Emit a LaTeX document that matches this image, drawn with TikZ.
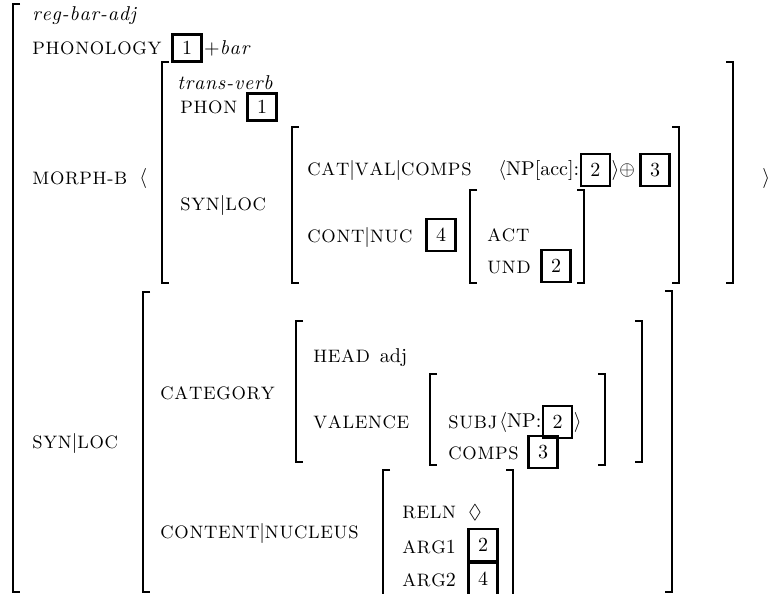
\documentclass[tikz,border=0pt]{standalone}
\usepackage{amsmath,amssymb}
\usepackage{tikz}
\usetikzlibrary{positioning}

% spaced-out letters: \lsp[kern]{text}
\ExplSyntaxOn
\NewDocumentCommand{\lsp}{O{0.35pt} m}{ \tl_map_inline:nn {#2} { ##1 \kern #1 } \unkern }
\ExplSyntaxOff
% feature names and sort labels
\newcommand{\fn}[1]{{\fontsize{9}{11}\selectfont\lsp{#1}}}
\newcommand{\srt}[1]{{\itshape\lsp[0.4pt]{#1}}}

\begin{document}
\begin{tikzpicture}[x=0.5pt, y=-0.5pt,
    feat/.style={anchor=west, inner sep=0pt},
    tag/.style={draw, line width=1.3pt, inner sep=0pt, minimum width=14.5pt, minimum height=16pt},
    tagshort/.style={tag, minimum height=13.5pt},
    brk/.style={line width=1pt}]
    \clip (0,0) rectangle (772,594);

    % Left brackets: x / top / bottom
    \foreach \bx/\btop/\bbot in {13/4/592, 162/62/283, 292/127/283, 470/190/283,
                                 143/292/592, 296/321/462, 430/374/465, 383/470/600} {
        \draw[brk] (\bx+7,\btop) -- (\bx,\btop) -- (\bx,\bbot) -- (\bx+7,\bbot);
    }
    % Right brackets
    \foreach \bx/\btop/\bbot in {733/62/283, 679/127/283, 584/190/283,
                                 672/291/592, 642/321/462, 605/374/465, 513/470/600} {
        \draw[brk] (\bx-7,\btop) -- (\bx,\btop) -- (\bx,\bbot) -- (\bx-7,\bbot);
    }

    % Outer matrix
    \node[feat] (regbaradj) at (32,16) {\srt{reg-bar-adj}};
    \node[feat] (phonology) at (32,48) {\fn{PHONOLOGY}};
    \node[tagshort] (tagphon) at (187,48) {1};
    \node[feat, right=0.5pt of tagphon] (plusbar) {$+$\srt{bar}};
    \node[feat] (morphb) at (32,178) {\fn{MORPH-B}};
    \node[feat] (lang) at (139,178) {$\langle$};
    \node[feat] (rang) at (762,178) {$\rangle$};
    \node[feat] (synlocA) at (32,443) {\fn{SYN}$|$\fn{LOC}};

    % Morphological base
    \node[feat] (transverb) at (177,83) {\srt{trans-verb}};
    \node[feat] (phon) at (180,107) {\fn{PHON}};
    \node[tagshort] (tagbase) at (262,107) {1};
    \node[feat] (synlocB) at (180,205) {\fn{SYN}$|$\fn{LOC}};
    \node[feat] (catval) at (307,170) {\fn{CAT}$|$\fn{VAL}$|$\fn{COMPS}};
    \node[feat] (npacc) at (498,170) {$\langle$NP[acc]:};
    \node[tag, right=0pt of npacc] (tagacc) {2};
    \node[feat, right=0pt of tagacc] (oplus) {$\rangle{\oplus}$};
    \node[tag, right=2pt of oplus] (tagrest) {3};
    \node[feat] (contnuc) at (307,237) {\fn{CONT}$|$\fn{NUC}};
    \node[tag] (tagnuc) at (441,235) {4};
    \node[feat] (act) at (487,235) {\fn{ACT}};
    \node[feat] (und) at (487,268) {\fn{UND}};
    \node[tag] (tagund) at (556,266) {2};

    % Derived adjective
    \node[feat] (category) at (160,393) {\fn{CATEGORY}};
    \node[feat] (head) at (313,358) {\fn{HEAD}\hspace{5pt}adj};
    \node[feat] (valence) at (313,422) {\fn{VALENCE}};
    \node[feat] (subj) at (448,422) {\fn{SUBJ}};
    \node[feat] (npsubj) at (499,422) {$\langle$NP:};
    \node[tag, right=0pt of npsubj] (tagsubj) {2};
    \node[feat, right=0pt of tagsubj] (subjend) {$\rangle$};
    \node[feat] (comps) at (448,453) {\fn{COMPS}};
    \node[tag] (tagcomps) at (543,452) {3};
    \node[feat] (content) at (160,533) {\fn{CONTENT}$|$\fn{NUCLEUS}};
    \node[feat] (reln) at (402,513) {\fn{RELN}};
    \node (diam) at (475,513) {$\Diamond$};
    \node[feat] (argone) at (402,547) {\fn{ARG}1};
    \node[tag] (tagargone) at (483,545) {2};
    \node[feat] (argtwo) at (402,580) {\fn{ARG}2};
    \node[tag] (tagargtwo) at (483,579) {4};
\end{tikzpicture}
\end{document}
